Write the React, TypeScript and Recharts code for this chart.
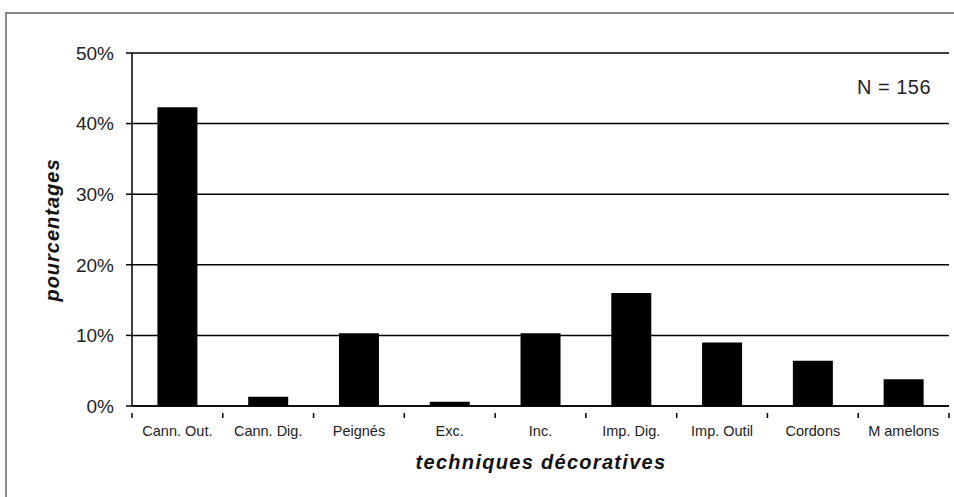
import React from 'react';
import { BarChart, Bar, XAxis, YAxis, CartesianGrid } from 'recharts';

// categories and percentages (N = 156)
const categories = [
  'Cann. Out.',
  'Cann. Dig.',
  'Peignés',
  'Exc.',
  'Inc.',
  'Imp. Dig.',
  'Imp. Outil',
  'Cordons',
  'M amelons',
];
const percentages = [42.3, 1.3, 10.3, 0.6, 10.3, 16.0, 9.0, 6.4, 3.8];
const yTicks = [0, 10, 20, 30, 40, 50];

const data = categories.map((name, i) => ({ name, value: percentages[i] }));

const W = 954;
const H = 497;
const margin = { top: 53, right: 5, bottom: 56, left: 62 };
const Y_AXIS_W = 70;
const PLOT_W = W - margin.left - margin.right - Y_AXIS_W;
const STEP = PLOT_W / categories.length;

const font = '"Liberation Sans", Arial, sans-serif';

const CategoryTick = (props: any) => {
  const { x, y, payload } = props;
  const right = x + STEP / 2;
  return (
    <g>
      <line x1={right} y1={y - 1} x2={right} y2={y + 4} stroke="#000" strokeWidth={1.5} />
      {payload.index === 0 && (
        <line x1={x - STEP / 2} y1={y - 1} x2={x - STEP / 2} y2={y + 4} stroke="#000" strokeWidth={1.5} />
      )}
      <text x={x} y={y + 22} textAnchor="middle" fontSize={14.5} fill="#222" fontFamily={font}>
        {payload.value}
      </text>
    </g>
  );
};

const App: React.FC = () => {
  return (
    <div style={{ position: 'absolute', left: 0, top: 0, width: W, height: H, overflow: 'hidden', background: '#fff' }}>
      <div
        style={{
          position: 'absolute',
          left: 5,
          top: 12,
          width: 960,
          height: 500,
          borderTop: '2px solid #8a8a8a',
          borderLeft: '2px solid #8a8a8a',
        }}
      />
      <div style={{ position: 'absolute', left: 0, top: 0 }}>
        <BarChart width={W} height={H} data={data} margin={margin} barCategoryGap="28%">
          <CartesianGrid vertical={false} stroke="#000" strokeWidth={1.5} />
          <XAxis
            dataKey="name"
            interval={0}
            axisLine={{ stroke: '#000', strokeWidth: 1.5 }}
            tickLine={false}
            tick={<CategoryTick />}
            height={35}
          />
          <YAxis
            domain={[0, 50]}
            ticks={yTicks}
            tickFormatter={(v) => `${v}%`}
            width={Y_AXIS_W}
            axisLine={{ stroke: '#000', strokeWidth: 1.5 }}
            tickLine={{ stroke: '#000', strokeWidth: 1.5 }}
            tickSize={6}
            tickMargin={12}
            tick={{ fill: '#222', fontSize: 19, fontFamily: font }}
            interval={0}
          />
          <YAxis
            yAxisId="right"
            orientation="right"
            width={0}
            tick={false}
            tickLine={false}
            axisLine={{ stroke: '#000', strokeWidth: 1.5 }}
          />
          <Bar dataKey="value" fill="#000" isAnimationActive={false} />
        </BarChart>
      </div>
      <div
        style={{
          position: 'absolute',
          left: 52,
          top: 230,
          transform: 'translate(-50%, -50%) rotate(-90deg)',
          fontFamily: font,
          fontWeight: 'bold',
          fontStyle: 'italic',
          fontSize: 20,
          letterSpacing: 1,
          whiteSpace: 'nowrap',
          color: '#111',
        }}
      >
        pourcentages
      </div>
      <div
        style={{
          position: 'absolute',
          left: 541,
          top: 462,
          transform: 'translate(-50%, -50%)',
          fontFamily: font,
          fontWeight: 'bold',
          fontStyle: 'italic',
          fontSize: 20,
          letterSpacing: 1.3,
          whiteSpace: 'nowrap',
          color: '#111',
        }}
      >
        techniques décoratives
      </div>
      <div
        style={{
          position: 'absolute',
          left: 857,
          top: 87,
          transform: 'translateY(-50%)',
          fontFamily: font,
          fontSize: 20,
          letterSpacing: 0.5,
          whiteSpace: 'nowrap',
          color: '#222',
        }}
      >
        N = 156
      </div>
    </div>
  );
};

export default App;
